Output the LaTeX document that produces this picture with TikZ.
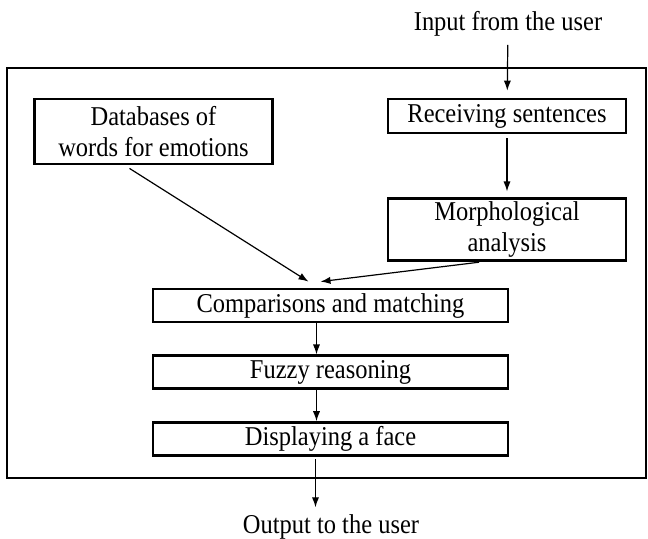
\documentclass[tikz,border=0pt]{standalone}
\usepackage{fontspec}
\setmainfont{Liberation Serif}[FakeStretch=0.9]
\usetikzlibrary{positioning,arrows.meta}

\begin{document}
\begin{tikzpicture}[x=0.5pt,y=-0.5pt,
    box/.style={draw,line width=1.4pt,align=center,minimum width=119pt,inner sep=1pt,font=\fontsize{13.6}{15.5}\selectfont},
    wide/.style={box,minimum width=177.5pt,minimum height=16.5pt},
    lbl/.style={font=\fontsize{13.6}{15.5}\selectfont,inner sep=1pt},
    flow/.style={-{Latex[length=5pt,width=3.6pt]},line width=0.6pt}] %
    \useasboundingbox (0,0) rectangle (648,538);
    \draw[line width=1.1pt] (7,68) rectangle (646,478); % system frame
    \node[lbl] (in) at (508,24) {Input from the user} ; %
    \node[box,minimum height=17pt] (recv) at (507,116) {Receiving sentences} ; %
    \node[box,minimum height=31pt,below=31.5pt of recv] (morph) {Morphological\\analysis} ; %
    \node[box,minimum height=32.5pt] (db) at (153.5,131.5) {Databases of\\words for emotions} ; %
    \node[wide] (comp) at (330.5,305.5) {Comparisons and matching};
    \node[wide,below=15.5pt of comp] (fuzzy) {Fuzzy reasoning};
    \node[wide,below=15.5pt of fuzzy] (disp) {Displaying a face};
    \node[lbl] (out) at (331,527) {Output to the user};
    \draw[flow,shorten <=3pt,shorten >=3.5pt] (in) -- (recv) ; %
    \draw[flow,shorten <=2pt,shorten >=3pt] (recv) -- (morph);
    \draw[flow] ([xshift=-12pt,yshift=-1.5pt]db.south) -- ([xshift=-11pt,yshift=3pt]comp.north);
    \draw[flow] ([xshift=-14pt]morph.south) -- ([xshift=-5pt,yshift=3pt]comp.north);
    \draw[flow] ([xshift=-7pt]comp.south) -- ([xshift=-7pt]fuzzy.north);
    \draw[flow] ([xshift=-7pt]fuzzy.south) -- ([xshift=-7pt]disp.north);
    \draw[flow,shorten <=1pt,shorten >=2.5pt] ([xshift=-7.5pt]disp.south) -- ([xshift=-7.5pt]disp.south |- out.north);
\end{tikzpicture}
\end{document}
